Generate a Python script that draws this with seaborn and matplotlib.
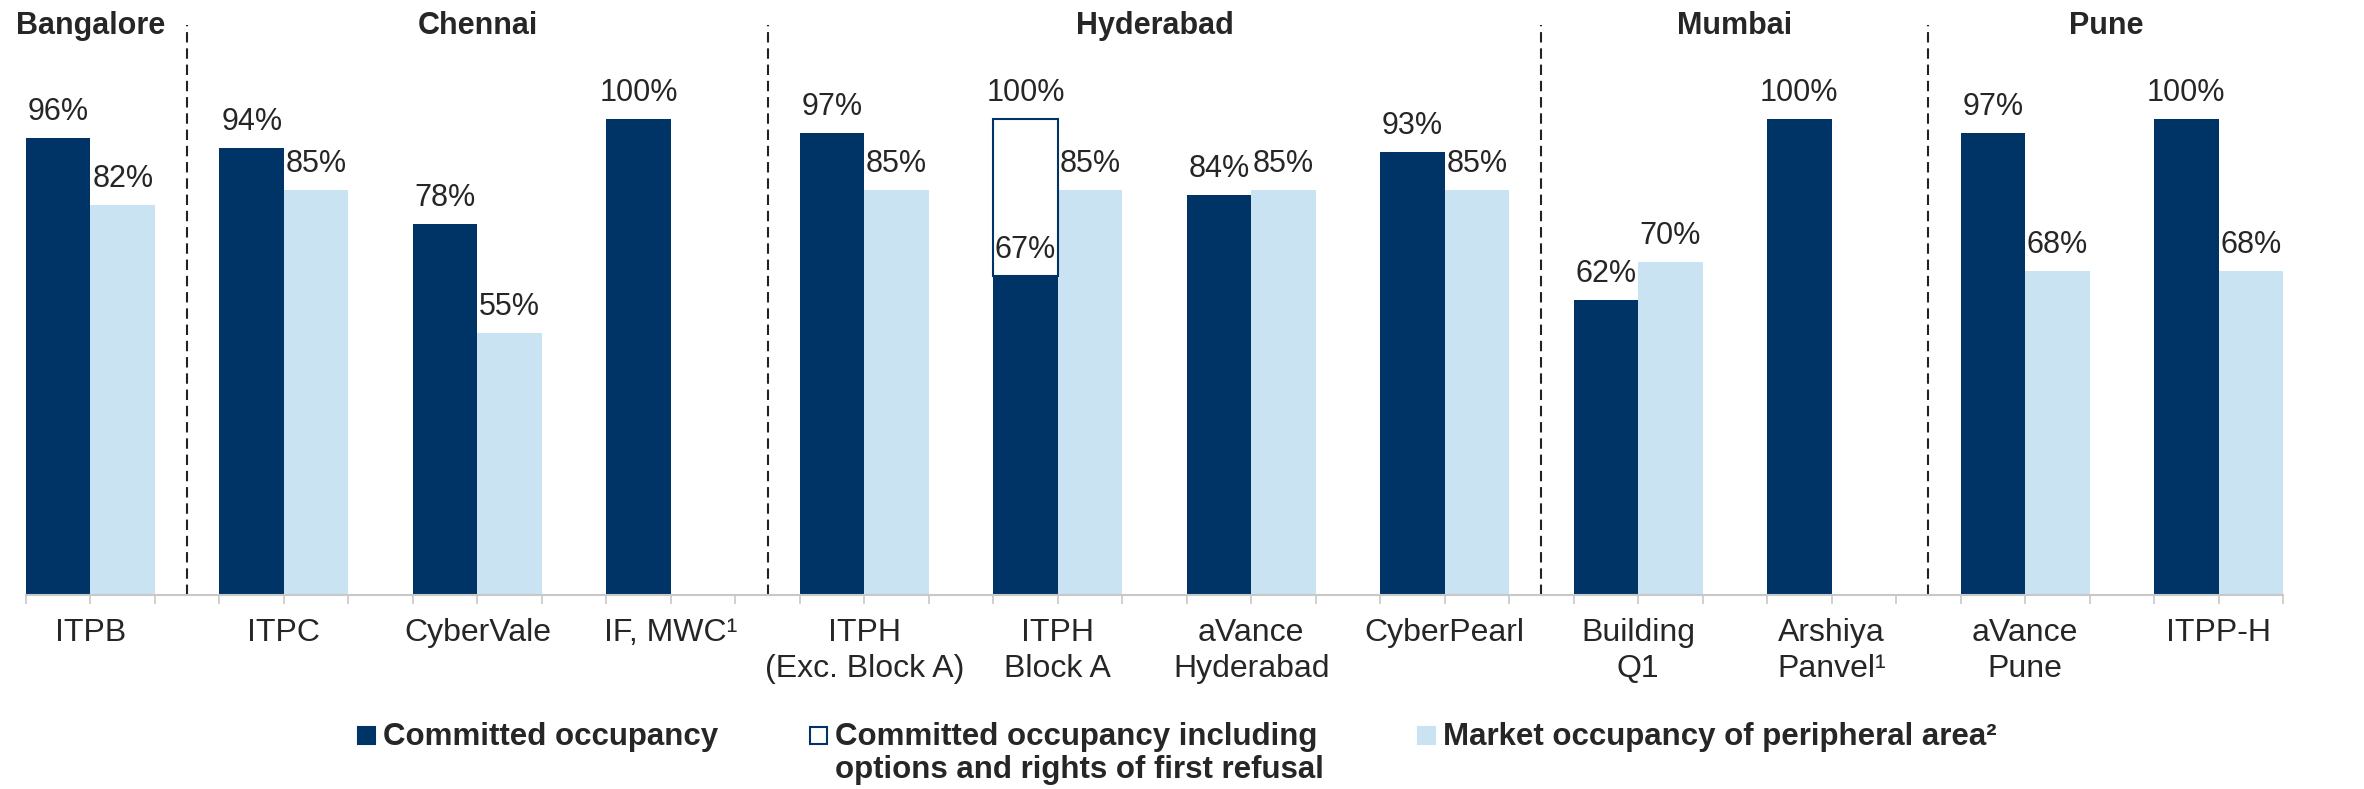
import numpy as np
import pandas as pd
import seaborn as sns
import matplotlib.pyplot as plt
import matplotlib.patches as mpatches

# Occupancy by property (percent)
properties = ["ITPB", "ITPC", "CyberVale", "IF, MWC\u00b9", "ITPH\n(Exc. Block A)", "ITPH\nBlock A",
              "aVance\nHyderabad", "CyberPearl", "Building\nQ1", "Arshiya\nPanvel\u00b9", "aVance\nPune", "ITPP-H"]
committed = [96, 94, 78, 100, 97, 67, 84, 93, 62, 100, 97, 100]
market = [82, 85, 55, np.nan, 85, 85, 85, 85, 70, np.nan, 68, 68]
with_options = [np.nan, np.nan, np.nan, np.nan, np.nan, 100, np.nan, np.nan, np.nan, np.nan, np.nan, np.nan]

cities = ["Bangalore", "Chennai", "Hyderabad", "Mumbai", "Pune"]
city_first = [0, 1, 4, 8, 10]
city_center = [0, 2, 5.5, 8.5, 10.42]

series_names = ["Committed occupancy",
                "Committed occupancy including\noptions and rights of first refusal",
                "Market occupancy of peripheral area\u00b2"]

NAVY = "#003466"
LIGHT = "#C9E3F2"

sns.set_style("white")
plt.rcParams['font.family'] = ['Liberation Sans', 'DejaVu Sans']

W, H = 2364, 789
fig = plt.figure(figsize=(W / 100, H / 100), dpi=100)
x_left, x_right, y_axis = 26, 2283, 595
ax = fig.add_axes([x_left / W, (H - y_axis) / H, (x_right - x_left) / W, y_axis / H])

df = pd.DataFrame({
    "property": properties * 2,
    "series": ["committed"] * len(properties) + ["market"] * len(properties),
    "value": list(np.array(committed) / 100) + list(np.array(market) / 100),
}).dropna()

sns.barplot(data=df, x="property", y="value", hue="series", order=properties,
            hue_order=["committed", "market"], palette=[NAVY, LIGHT], width=2/3,
            saturation=1, linewidth=0, errorbar=None, legend=False, ax=ax)

pos = np.arange(len(properties))
opt = np.array(with_options) / 100
com = np.array(committed) / 100
ax.bar(pos - 1/6, opt - com, bottom=com, width=1/3, facecolor="white",
       edgecolor=NAVY, linewidth=1.5)

# value labels
lab_kw = dict(ha="center", va="baseline", fontsize=22, textcoords="offset points", xytext=(0, 13))
for i in range(len(properties)):
    ax.annotate(f"{committed[i]:.0f}%", (pos[i] - 1/6, com[i]), **lab_kw)
    if not np.isnan(market[i]):
        ax.annotate(f"{market[i]:.0f}%", (pos[i] + 1/6, market[i] / 100), **lab_kw)
    if not np.isnan(with_options[i]):
        ax.annotate(f"{with_options[i]:.0f}%", (pos[i] - 1/6, opt[i]), **lab_kw)

ax.set_ylim(0, y_axis / 476)
ax.set_xlim(-1/3, len(properties) - 2/3)

# city headers and separators
for name, cx in zip(cities, city_center):
    ax.text(cx, 1.178, name, ha="center", va="baseline", fontsize=22, fontweight="bold")
ax.vlines(np.array(city_first[1:]) - 0.5, 0, 1.197, colors="#222222", linewidth=1.5,
          linestyles=(0, (5, 2.8)))

ax.set_xticks(pos)
ax.set_xticklabels(properties, linespacing=1.25)
ax.set_xticks(np.concatenate([pos - 1/3, pos + 1/3]), minor=True)
ax.tick_params(axis="x", which="both", length=6.5, width=1.2, color="#C8C8C8",
               pad=10, labelsize=23, bottom=True)
ax.set_yticks([])
ax.set_xlabel("")
ax.set_ylabel("")
for s in ["left", "right", "top"]:
    ax.spines[s].set_visible(False)
ax.spines["bottom"].set_color("#C8C8C8")
ax.spines["bottom"].set_linewidth(1.5)

# legend
legend_x = [358, 810, 1418]
styles = [dict(facecolor=NAVY, edgecolor=NAVY), dict(facecolor="white", edgecolor=NAVY),
          dict(facecolor=LIGHT, edgecolor=LIGHT)]
for lx, name, st in zip(legend_x, series_names, styles):
    fig.add_artist(mpatches.Rectangle((lx / W, (H - 744) / H), 17 / W, 17 / H,
                                      transform=fig.transFigure, linewidth=1.5, **st))
    fig.text((lx + 25) / W, (H - 722) / H, name, ha="left", va="top",
             fontsize=22.5, fontweight="bold", linespacing=1.12)

fig.savefig("out.png", dpi=100)
